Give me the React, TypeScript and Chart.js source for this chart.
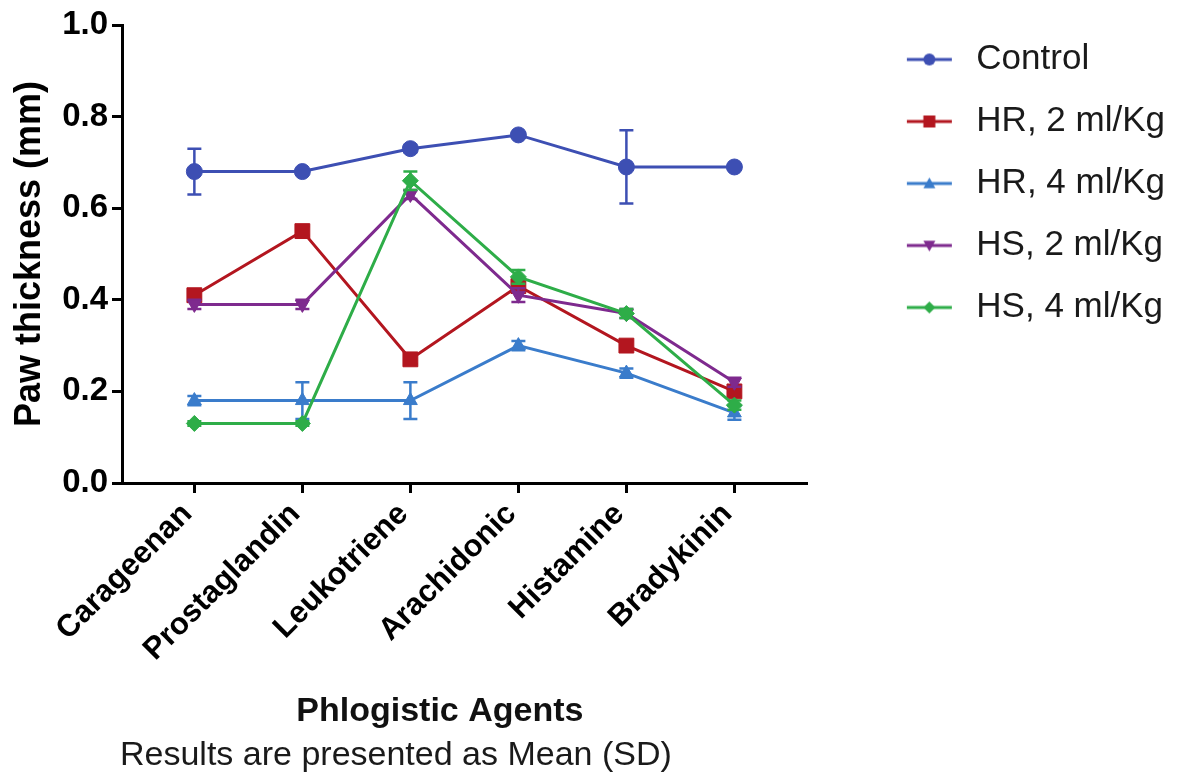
import React, { useEffect, useRef } from 'react';
import { Chart, registerables } from 'chart.js';

Chart.register(...registerables);

const categories = ['Carageenan', 'Prostaglandin', 'Leukotriene', 'Arachidonic', 'Histamine', 'Bradykinin'];
const yTicks = [0, 0.2, 0.4, 0.6, 0.8, 1.0];

const controlMean = [0.68, 0.68, 0.73, 0.76, 0.69, 0.69];
const controlSD = [0.05, 0.005, 0.008, 0.006, 0.08, 0.006];
const hr2Mean = [0.41, 0.55, 0.27, 0.43, 0.30, 0.20];
const hr2SD = [0.01, 0.01, 0.01, 0.01, 0.01, 0.01];
const hr4Mean = [0.18, 0.18, 0.18, 0.30, 0.24, 0.153];
const hr4SD = [0.01, 0.04, 0.04, 0.01, 0.01, 0.015];
const hs2Mean = [0.39, 0.39, 0.63, 0.41, 0.37, 0.22];
const hs2SD = [0.01, 0.01, 0.01, 0.015, 0.01, 0.01];
const hs4Mean = [0.13, 0.13, 0.66, 0.45, 0.37, 0.17];
const hs4SD = [0.005, 0.005, 0.02, 0.015, 0.01, 0.01];

const seriesLabels = ['Control', 'HR, 2 ml/Kg', 'HR, 4 ml/Kg', 'HS, 2 ml/Kg', 'HS, 4 ml/Kg'];
const xTitle = 'Phlogistic Agents';
const yTitle = 'Paw thickness (mm)';
const footnote = 'Results are presented as Mean (SD)';

const FONT = "'Liberation Sans', Arial, Helvetica, sans-serif";

type Series = {
  label: string;
  color: string;
  style: string;
  radius: number;
  rotation: number;
  mean: number[];
  sd: number[];
};

const series: Series[] = [
  { label: seriesLabels[0], color: '#3D4FB3', style: 'circle', radius: 8, rotation: 0, mean: controlMean, sd: controlSD },
  { label: seriesLabels[1], color: '#B3161F', style: 'rect', radius: 10.5, rotation: 0, mean: hr2Mean, sd: hr2SD },
  { label: seriesLabels[2], color: '#3A7CCB', style: 'triangle', radius: 8, rotation: 0, mean: hr4Mean, sd: hr4SD },
  { label: seriesLabels[3], color: '#7E2A8E', style: 'triangle', radius: 8, rotation: 180, mean: hs2Mean, sd: hs2SD },
  { label: seriesLabels[4], color: '#2EAD48', style: 'rectRot', radius: 8, rotation: 0, mean: hs4Mean, sd: hs4SD },
];

const LEGEND_W = 124;
const LEGEND_H = 30;

function makeLegendImage(s: Series): HTMLCanvasElement {
  const c = document.createElement('canvas');
  c.width = LEGEND_W;
  c.height = LEGEND_H;
  const ctx = c.getContext('2d')!;
  const cy = LEGEND_H / 2;
  const x0 = 72;
  const x1 = 117;
  const cx = (x0 + x1) / 2;
  ctx.strokeStyle = s.color;
  ctx.fillStyle = s.color;
  ctx.lineWidth = 3;
  ctx.beginPath();
  ctx.moveTo(x0, cy);
  ctx.lineTo(x1, cy);
  ctx.stroke();
  const r = 6;
  ctx.beginPath();
  if (s.style === 'circle') {
    ctx.arc(cx, cy, r, 0, Math.PI * 2);
  } else if (s.style === 'rect') {
    ctx.rect(cx - r, cy - r, 2 * r, 2 * r);
  } else if (s.style === 'triangle') {
    const dir = s.rotation === 180 ? -1 : 1;
    ctx.moveTo(cx, cy - dir * r);
    ctx.lineTo(cx + r, cy + dir * r * 0.8);
    ctx.lineTo(cx - r, cy + dir * r * 0.8);
    ctx.closePath();
  } else {
    ctx.moveTo(cx, cy - r);
    ctx.lineTo(cx + r, cy);
    ctx.lineTo(cx, cy + r);
    ctx.lineTo(cx - r, cy);
    ctx.closePath();
  }
  ctx.fill();
  return c;
}

const errorBarPlugin = {
  id: 'errorBars',
  beforeDatasetDraw(chart: any, args: any) {
    const idx = args.index;
    const s = series[idx];
    if (!s) return;
    const meta = chart.getDatasetMeta(idx);
    const yScale = chart.scales.y;
    const ctx = chart.ctx;
    ctx.save();
    ctx.strokeStyle = s.color;
    ctx.lineWidth = 2.5;
    const cap = 7;
    meta.data.forEach((pt: any, j: number) => {
      const m = s.mean[j];
      const d = s.sd[j];
      const yTop = yScale.getPixelForValue(m + d);
      const yBot = yScale.getPixelForValue(m - d);
      const x = pt.x;
      ctx.beginPath();
      ctx.moveTo(x, yTop);
      ctx.lineTo(x, yBot);
      ctx.moveTo(x - cap, yTop);
      ctx.lineTo(x + cap, yTop);
      ctx.moveTo(x - cap, yBot);
      ctx.lineTo(x + cap, yBot);
      ctx.stroke();
    });
    ctx.restore();
  },
};

const captionPlugin = {
  id: 'captions',
  afterDraw(chart: any) {
    const ctx = chart.ctx;
    const area = chart.chartArea;
    ctx.save();
    ctx.fillStyle = '#111';
    ctx.textBaseline = 'middle';
    ctx.textAlign = 'center';
    ctx.font = `bold 34px ${FONT}`;
    ctx.fillText(xTitle, area.left + (area.right - area.left) * 0.4635, 712);
    ctx.textAlign = 'left';
    ctx.font = `34px ${FONT}`;
    ctx.fillStyle = '#1a1a1a';
    ctx.fillText(footnote, area.left - 2, 756);
    ctx.restore();
  },
};

export default function App() {
  const canvasRef = useRef<HTMLCanvasElement | null>(null);

  useEffect(() => {
    if (!canvasRef.current) return;
    Chart.defaults.font.family = FONT;
    const legendImages = series.map(makeLegendImage);

    const chart = new Chart(canvasRef.current, {
      type: 'line',
      data: {
        datasets: series.map((s, i) => ({
          label: s.label,
          data: s.mean.map((v, j) => ({ x: j, y: v })),
          borderColor: s.color,
          backgroundColor: s.color,
          borderWidth: 3,
          pointStyle: s.style as any,
          pointRadius: s.radius,
          pointHoverRadius: s.radius,
          pointRotation: s.rotation,
          pointBorderWidth: 1,
          pointBackgroundColor: s.color,
          pointBorderColor: s.color,
          tension: 0,
          fill: false,
          order: series.length - i,
        })),
      },
      options: {
        animation: false,
        responsive: true,
        maintainAspectRatio: false,
        layout: { padding: { top: 15, right: 2, bottom: 40, left: 0 } },
        plugins: {
          tooltip: { enabled: false },
          legend: {
            position: 'right',
            align: 'start',
            maxWidth: 420,
            labels: {
              usePointStyle: true,
              pointStyleWidth: LEGEND_W,
              padding: 27,
              color: '#1a1a1a',
              font: { size: 35, family: FONT },
              generateLabels: () =>
                series.map((s, i) => ({
                  text: s.label,
                  pointStyle: legendImages[i] as any,
                  fillStyle: s.color,
                  strokeStyle: s.color,
                  lineWidth: 0,
                  hidden: false,
                  datasetIndex: i,
                  fontColor: '#1a1a1a',
                })),
            },
          },
        },
        scales: {
          x: {
            type: 'linear',
            min: -0.67,
            max: 5.68,
            afterBuildTicks: (scale: any) => {
              scale.ticks = categories.map((_, i) => ({ value: i }));
            },
            afterFit: (scale: any) => {
              scale.height = 257;
              scale.paddingLeft = 0;
              scale.paddingRight = 0;
            },
            ticks: {
              autoSkip: false,
              minRotation: 45,
              maxRotation: 45,
              padding: 3,
              labelOffset: -7,
              color: '#000',
              font: { size: 31, weight: 'bold', family: FONT },
              callback: (v: any) => categories[Math.round(Number(v))] ?? '',
            },
            grid: {
              drawOnChartArea: false,
              drawTicks: true,
              tickLength: 10,
              tickColor: '#000',
              tickWidth: 3,
            },
            border: { color: '#000', width: 3 },
            title: { display: false, text: xTitle },
          },
          y: {
            min: 0,
            max: 1,
            afterBuildTicks: (scale: any) => {
              scale.ticks = yTicks.map((v) => ({ value: v }));
            },
            afterFit: (scale: any) => {
              scale.width = 122;
              scale.paddingTop = 25;
            },
            ticks: {
              padding: 4,
              color: '#000',
              font: { size: 33, weight: 'bold', family: FONT },
              callback: (v: any) => Number(v).toFixed(1),
            },
            grid: {
              drawOnChartArea: false,
              drawTicks: true,
              tickLength: 10,
              tickColor: '#000',
              tickWidth: 3,
            },
            border: { color: '#000', width: 3 },
            title: {
              display: true,
              text: yTitle,
              color: '#000',
              font: { size: 36, weight: 'bold', family: FONT },
              padding: { top: 8, bottom: 0 },
            },
          },
        },
      },
      plugins: [errorBarPlugin, captionPlugin],
    });

    return () => chart.destroy();
  }, []);

  return (
    <div style={{ position: 'fixed', left: 0, top: 0, width: 1177, height: 780, background: '#fff' }}>
      <canvas ref={canvasRef} />
    </div>
  );
}
